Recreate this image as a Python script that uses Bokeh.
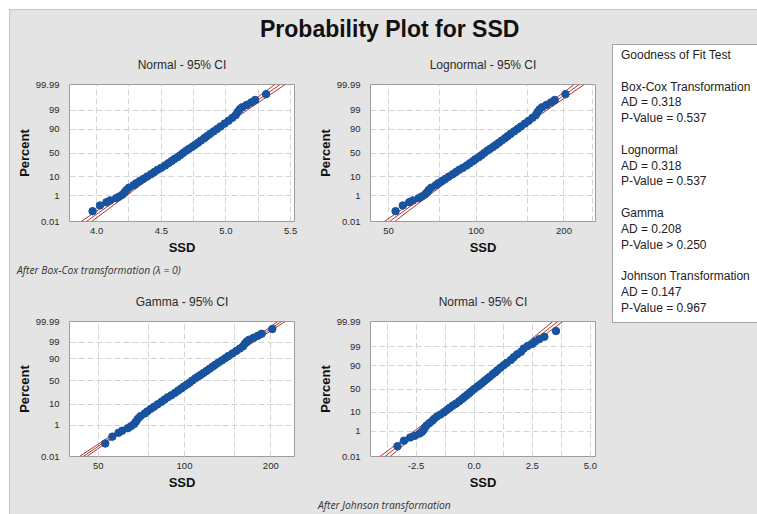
import math
from statistics import NormalDist
from bokeh.plotting import figure
from bokeh.models import Range1d, FixedTicker, CustomJSTickFormatter, Div, Spacer, NumeralTickFormatter
from bokeh.layouts import row, column
from bokeh.embed import file_html
from bokeh.resources import INLINE

# ---------------- data ----------------
# plotting positions (percent) of the plotted observations
pct = [0.08, 0.22, 0.38, 0.5, 0.7, 0.9, 1.2, 1.6, 2.2, 3, 4, 5, 6.5, 8, 10, 12.5, 15, 18, 21, 25,
       29, 33, 37, 41, 45, 50, 55, 59, 63, 67, 71, 75, 79, 82, 85, 88, 90.5, 92.5, 94.5, 96,
       97.2, 98, 98.7, 99.1, 99.35, 99.55, 99.7, 99.8, 99.93]
# SSD values (lognormal / gamma panels); Box-Cox panel shows ln(SSD)
ssd = [52.9, 56.0, 58.9, 60.6, 63.4, 65.0, 66.7, 67.7, 68.7, 70.1, 72.6, 74.1, 76.3, 78.3, 80.6,
       83.1, 85.2, 87.4, 90.0, 92.8, 95.1, 97.5, 99.5, 102.0, 104.1, 106.5, 109.1, 111.6, 114.2,
       116.8, 119.5, 122.3, 125.5, 128.1, 131.2, 135.0, 138.7, 142.3, 146.9, 151.4, 156.0, 160.0,
       162.4, 164.9, 168.2, 174.2, 180.4, 185.9, 202.4]
# Johnson-transformed values
johnson = [-3.30, -3.02, -2.75, -2.55, -2.35, -2.25, -2.18, -2.13, -2.05, -1.93, -1.80, -1.72,
           -1.60, -1.45, -1.30, -1.17, -1.05, -0.92, -0.78, -0.64, -0.52, -0.42, -0.31, -0.21,
           -0.12, 0.0, 0.13, 0.24, 0.34, 0.44, 0.55, 0.67, 0.79, 0.90, 1.00, 1.13, 1.27, 1.40,
           1.58, 1.70, 1.85, 2.02, 2.13, 2.30, 2.50, 2.62, 2.80, 3.02, 3.52]

ytick_pct = [0.01, 1, 10, 50, 90, 99, 99.99]
ytick_labels = ["0.01", "1", "10", "50", "90", "99", "99.99"]

fit_pct = [0.01, 99.99]
ci_pct = [0.01, 0.1, 1, 10, 50, 90, 99, 99.9, 99.99]

boxcox_fit = [3.920, 5.418]
boxcox_ci_lo = [3.880, 4.013, 4.174, 4.392, 4.655, 4.908, 5.110, 5.257, 5.378]
boxcox_ci_hi = [3.960, 4.081, 4.228, 4.430, 4.683, 4.946, 5.164, 5.325, 5.458]

logn_fit = [50.4, 225.4]
logn_ci_lo = [48.4, 55.3, 65.0, 80.8, 105.1, 135.4, 165.7, 191.9, 216.6]
logn_ci_hi = [52.5, 59.2, 68.6, 83.9, 108.1, 140.6, 174.9, 205.4, 234.6]

gamma_shape = 25.0
gamma_fit = [44.3, 218.0]
gamma_ci_lo = [43.0, 51.3, 62.7, 80.9, 107.6, 138.7, 167.5, 191.0, 211.5]
gamma_ci_hi = [45.6, 53.9, 65.2, 83.2, 109.7, 142.6, 174.3, 200.7, 224.5]

johnson_fit = [-3.84, 3.60]
johnson_ci_lo = [-4.06, -3.39, -2.59, -1.50, -0.20, 1.06, 2.07, 2.79, 3.38]
johnson_ci_hi = [-3.62, -3.03, -2.31, -1.30, -0.04, 1.26, 2.35, 3.15, 3.82]

gof_lines = ["Goodness of Fit Test", "",
             "Box-Cox Transformation", "AD = 0.318", "P-Value = 0.537", "",
             "Lognormal", "AD = 0.318", "P-Value = 0.537", "",
             "Gamma", "AD = 0.208", "P-Value &gt; 0.250", "",
             "Johnson Transformation", "AD = 0.147", "P-Value = 0.967"]

# ---------------- probability scales ----------------
ND = NormalDist()


def normal_scale(p):
    return ND.inv_cdf(p / 100.0)


def gamma_scale(p):
    z = ND.inv_cdf(p / 100.0)
    k = gamma_shape
    return 3.0 * math.log(1.0 - 1.0 / (9.0 * k) + z / (3.0 * math.sqrt(k)))


BG = "#e4e4e4"
EDGE = "#c6c6c6"
FONT = "Liberation Sans"
TXT = "#2a2a2a"
BLUE = "#17539f"
RED = "#b3312f"


def panel(title, xs, scale, fit, ci_lo, ci_hi, x_range, x_type, xticks, xminor,
          fmt, width, height, bl, br, bt, bb):
    ypos = [scale(p) for p in ytick_pct]
    p = figure(width=width, height=height, x_range=x_range,
               y_range=Range1d(ypos[0], ypos[-1]), x_axis_type=x_type,
               output_backend="svg", toolbar_location=None,
               min_border_left=bl, min_border_right=br, min_border_top=bt,
               min_border_bottom=bb, background_fill_color="white",
               border_fill_color=BG, outline_line_color="#9c9c9c", outline_line_width=1)
    p.title.text = title
    p.title.align = "center"
    p.title.text_font = FONT
    p.title.text_font_size = "12px"
    p.title.text_font_style = "normal"
    p.title.text_color = TXT
    p.title.standoff = 26

    p.yaxis.ticker = FixedTicker(ticks=ypos)
    p.yaxis.formatter = CustomJSTickFormatter(
        args=dict(pos=ypos, labs=ytick_labels),
        code="""let b = 0;
for (let i = 0; i < pos.length; i++) { if (Math.abs(pos[i] - tick) < Math.abs(pos[b] - tick)) b = i; }
return labs[b];""")
    p.xaxis.ticker = FixedTicker(ticks=xticks, minor_ticks=xminor)
    p.xaxis.formatter = fmt
    p.yaxis.axis_label = "Percent"
    p.xaxis.axis_label = "SSD"
    for ax in (p.xaxis[0], p.yaxis[0]):
        ax.axis_line_color = None
        ax.major_tick_line_color = None
        ax.minor_tick_line_color = None
        ax.major_label_text_font = FONT
        ax.major_label_text_font_size = "9.5px"
        ax.major_label_text_color = TXT
        ax.axis_label_text_font = FONT
        ax.axis_label_text_font_size = "13px"
        ax.axis_label_text_font_style = "bold"
        ax.axis_label_text_color = "#111111"
    p.xaxis.major_label_standoff = 0
    p.xaxis.axis_label_standoff = 3
    p.yaxis.major_label_standoff = 4
    p.yaxis.axis_label_standoff = 1

    p.ygrid.ticker = FixedTicker(ticks=ypos[1:-1])
    for g in (p.xgrid[0], p.ygrid[0]):
        g.grid_line_color = "#d4d4d4"
        g.grid_line_dash = "6 3"
        g.grid_line_width = 1
    p.xgrid.minor_grid_line_color = "#d4d4d4"
    p.xgrid.minor_grid_line_dash = "6 3"

    fy = [scale(q) for q in fit_pct]
    cy = [scale(q) for q in ci_pct]
    p.line(ci_lo, cy, line_color=RED, line_width=1)
    p.line(ci_hi, cy, line_color=RED, line_width=1)
    p.line(fit, fy, line_color=RED, line_width=1)
    p.scatter(xs, [scale(q) for q in pct], size=7.5, marker="circle",
              fill_color=BLUE, line_color=BLUE)
    return p


ln_ssd = [math.log(v) for v in ssd]

W1, W2 = 295, 307
f1 = panel("Normal - 95% CI", ln_ssd, normal_scale, boxcox_fit, boxcox_ci_lo, boxcox_ci_hi,
           Range1d(3.79, 5.53), "linear", [4.0, 4.5, 5.0, 5.5], [4.25, 4.75, 5.25],
           NumeralTickFormatter(format="0.0"), W1, 220, 59, 11, 42, 41)
f2 = panel("Lognormal - 95% CI", ssd, normal_scale, logn_fit, logn_ci_lo, logn_ci_hi,
           Range1d(43.4, 256.5), "log", [50, 100, 200], [75, 150, 250],
           NumeralTickFormatter(format="0"), W2, 220, 65, 17, 42, 41)
f3 = panel("Gamma - 95% CI", ssd, gamma_scale, gamma_fit, gamma_ci_lo, gamma_ci_hi,
           Range1d(39.7, 242.0), "log", [50, 100, 200], [75, 150],
           NumeralTickFormatter(format="0"), W1, 218, 59, 11, 42, 41)
f4 = panel("Normal - 95% CI", johnson, normal_scale, johnson_fit, johnson_ci_lo, johnson_ci_hi,
           Range1d(-4.46, 5.22), "linear", [-2.5, 0.0, 2.5, 5.0], [-3.75, -1.25, 1.25, 3.75],
           NumeralTickFormatter(format="0.0"), W2, 218, 65, 17, 42, 41)

title_div = Div(text=(f'<div style="font-family:\'{FONT}\';font-weight:bold;font-size:23px;'
                      'line-height:28px;padding:5px 0 0 250px;color:#111;white-space:nowrap;">'
                      'Probability Plot for SSD</div>'),
                width=747, height=32, margin=0, styles={"background-color": BG})

note1 = Div(text=('<div style="font-family:\'Open Sans\';font-style:italic;font-size:10.3px;'
                  'line-height:16px;padding-left:7px;color:#333;white-space:nowrap;">'
                  'After Box-Cox transformation (&lambda; = 0)</div>'),
            width=W1 + W2, height=17, margin=0, styles={"background-color": BG})
note2 = Div(text=('<div style="font-family:\'Open Sans\';font-style:italic;font-size:10.3px;'
                  'line-height:14px;padding-left:308px;color:#333;white-space:nowrap;">'
                  'After Johnson transformation</div>'),
            width=W1 + W2, height=17, margin=0, styles={"background-color": BG})

legend = Div(text=(f'<div style="box-sizing:border-box;width:145px;height:279px;background:#fff;'
                   'border:1px solid #a4a4a4;border-right:none;padding:3px 0 0 8px;'
                   f'font-family:\'{FONT}\';font-size:12px;line-height:15.8px;color:#222;'
                   'white-space:nowrap;">' + "<br>".join(gof_lines) + '</div>'),
             width=145, height=279, margin=0)

left_col = column(row(f1, f2), note1, row(f3, f4), note2, styles={"background-color": BG})
right_col = column(Spacer(width=145, height=2), legend, styles={"background-color": BG})
main = column(title_div, row(left_col, right_col), styles={"background-color": BG})

top_edge = Div(text="", width=748, height=1, margin=0, styles={"background-color": EDGE})
left_edge = Div(text="", width=1, height=504, margin=0, styles={"background-color": EDGE})
page = column(Spacer(width=757, height=9),
              row(Spacer(width=9, height=1), top_edge),
              row(Spacer(width=9, height=504), left_edge, main))

open("out.html", "w").write(file_html(page, INLINE))
